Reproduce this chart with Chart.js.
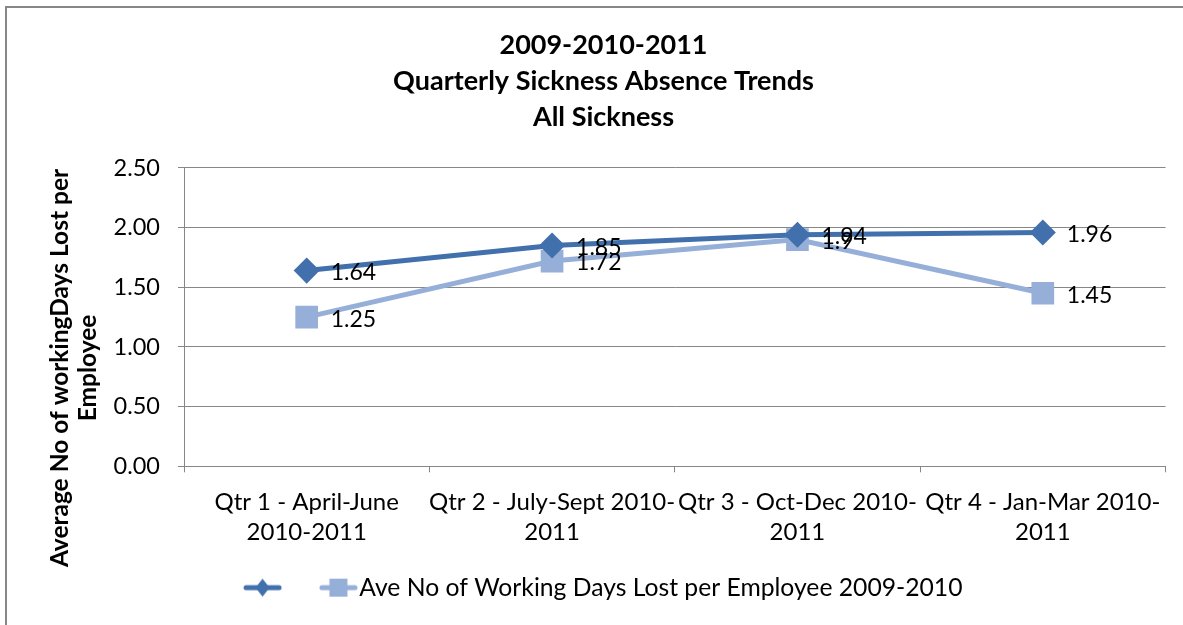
<!DOCTYPE html>
<html>
<head>
<meta charset="utf-8">
<script src="https://cdn.jsdelivr.net/npm/chart.js@4"></script>
<style>
    html, body { margin: 0; padding: 0; background: #fff; }
    #wrap { position: relative; width: 1183px; height: 625px; overflow: hidden; }
    #frame {
        position: absolute; left: 5px; top: 6px; width: 1200px; height: 700px;
        border-left: 2px solid #878787; border-top: 2px solid #878787;
        pointer-events: none;
    }
    canvas { position: absolute; left: 0; top: 0; }
</style>
</head>
<body>
<div id="wrap">
    <canvas id="lineChart" width="1183" height="625"></canvas>
    <div id="frame"></div>
</div>
<script>
const categories = [
    ['Qtr 1 - April-June', '2010-2011'],
    ['Qtr 2 - July-Sept 2010-', '2011'],
    ['Qtr 3 - Oct-Dec 2010-', '2011'],
    ['Qtr 4 - Jan-Mar 2010-', '2011']
];
const daysLost1011 = [1.64, 1.85, 1.94, 1.96];
const daysLost0910 = [1.25, 1.72, 1.9, 1.45];
const seriesNames = ['', 'Ave No of Working Days Lost per Employee 2009-2010'];
const titleLines = ['2009-2010-2011', 'Quarterly Sickness Absence Trends', 'All Sickness'];
const yTitleLines = ['Average No of workingDays Lost per', 'Employee'];

const FONT = 'Lato, "Liberation Sans", sans-serif';
const DARK = '#4170AC';
const LIGHT = '#95AFD8';

// legend swatch: short line with the marker on it, placed inside a wider canvas
function swatch(color, shape, width, start) {
    const c = document.createElement('canvas');
    c.width = width;
    c.height = 24;
    const g = c.getContext('2d');
    const mid = start + 19.5;
    g.strokeStyle = color;
    g.lineWidth = 5;
    g.lineCap = 'round';
    g.beginPath();
    g.moveTo(start + 3, 12);
    g.lineTo(start + 36, 12);
    g.stroke();
    g.fillStyle = color;
    g.beginPath();
    if (shape === 'diamond') {
        g.moveTo(mid, 3); g.lineTo(mid + 7, 12); g.lineTo(mid, 21); g.lineTo(mid - 7, 12);
    } else {
        g.rect(mid - 9, 3, 18, 18);
    }
    g.closePath();
    g.fill();
    return c;
}
const swatches = [swatch(DARK, 'diamond', 44, 4), swatch(LIGHT, 'square', 55, 16)];

const valueLabels = {
    id: 'valueLabels',
    afterDatasetsDraw(chart) {
        const ctx = chart.ctx;
        ctx.save();
        ctx.font = '23px ' + FONT;
        ctx.fillStyle = '#000';
        ctx.textAlign = 'left';
        ctx.textBaseline = 'middle';
        chart.data.datasets.forEach((ds, i) => {
            chart.getDatasetMeta(i).data.forEach((pt, j) => {
                ctx.fillText(String(ds.data[j]), pt.x + 24, pt.y + 2);
            });
        });
        ctx.restore();
    }
};

const yTitle = {
    id: 'yTitle',
    afterDraw(chart) {
        const ctx = chart.ctx;
        ctx.save();
        ctx.font = 'bold 24.5px ' + FONT;
        ctx.fillStyle = '#000';
        ctx.textAlign = 'center';
        ctx.textBaseline = 'middle';
        ctx.translate(60, 368);
        ctx.rotate(-Math.PI / 2);
        yTitleLines.forEach((line, i) => ctx.fillText(line, 0, i * 28));
        ctx.restore();
    }
};

new Chart(document.getElementById('lineChart').getContext('2d'), {
    type: 'line',
    data: {
        labels: categories,
        datasets: [
            {
                label: seriesNames[0],
                data: daysLost1011,
                borderColor: DARK,
                backgroundColor: DARK,
                borderWidth: 5,
                pointStyle: 'rectRot',
                pointRadius: 9.5,
                pointHoverRadius: 9.5,
                tension: 0
            },
            {
                label: seriesNames[1],
                data: daysLost0910,
                borderColor: LIGHT,
                backgroundColor: LIGHT,
                borderWidth: 5,
                pointStyle: 'rect',
                pointRadius: 12.5,
                pointHoverRadius: 12.5,
                tension: 0
            }
        ]
    },
    options: {
        responsive: false,
        animation: false,
        layout: { padding: { left: 40, right: 16, top: 27, bottom: 15 } },
        plugins: {
            title: {
                display: true,
                text: titleLines,
                color: '#000',
                font: { family: FONT, size: 27, weight: 'bold', lineHeight: 1.333 },
                padding: { top: 0, bottom: 33 }
            },
            legend: {
                position: 'bottom',
                labels: {
                    color: '#000',
                    font: { family: FONT, size: 24.7 },
                    usePointStyle: true,
                    pointStyleWidth: 33,
                    boxHeight: 20,
                    padding: 24,
                    generateLabels(chart) {
                        const items = Chart.defaults.plugins.legend.labels.generateLabels(chart);
                        items.forEach((it, i) => { it.pointStyle = swatches[i]; });
                        return items;
                    }
                }
            },
            tooltip: { enabled: false }
        },
        scales: {
            x: {
                offset: true,
                grid: {
                    offset: true,
                    drawOnChartArea: false,
                    color: '#878787',
                    tickLength: 6
                },
                border: { color: '#878787' },
                ticks: {
                    color: '#000',
                    font: { family: FONT, size: 24, lineHeight: 1.25 },
                    padding: 15,
                    maxRotation: 0,
                    autoSkip: false
                },
                afterFit(scale) { scale.height = 85; }
            },
            y: {
                min: 0,
                max: 2.5,
                ticks: {
                    stepSize: 0.5,
                    color: '#000',
                    font: { family: FONT, size: 23.5 },
                    padding: 18,
                    callback: v => v.toFixed(2)
                },
                grid: { color: '#878787', tickLength: 6 },
                border: { color: '#878787' },
                afterFit(scale) { scale.width = 144; }
            }
        }
    },
    plugins: [valueLabels, yTitle]
});
</script>
</body>
</html>
